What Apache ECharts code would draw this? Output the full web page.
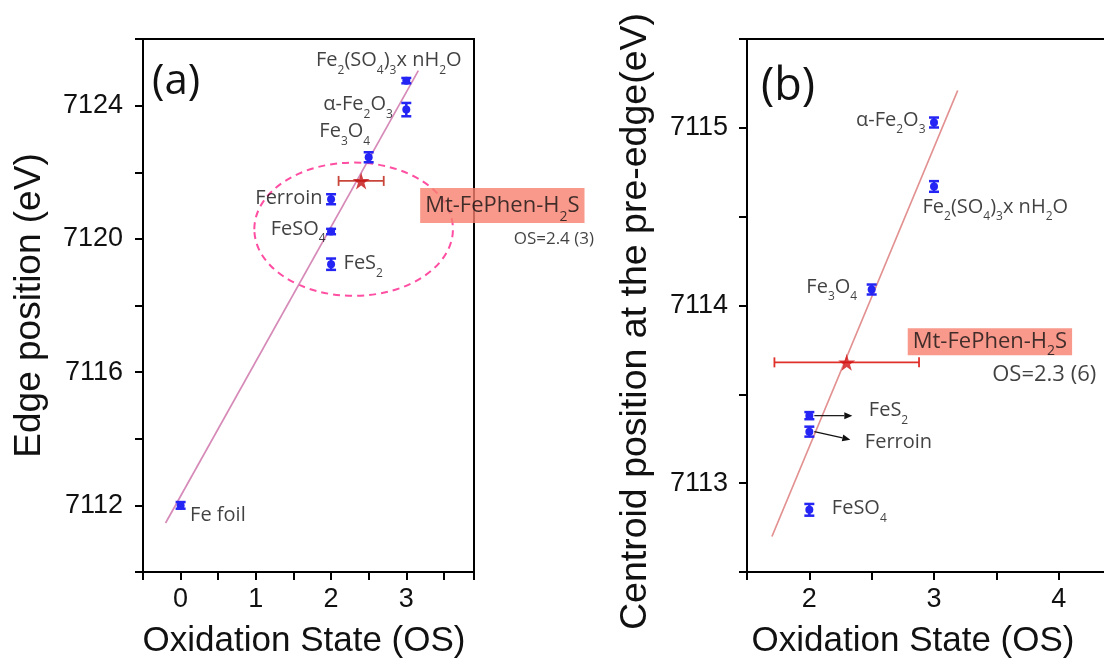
<!DOCTYPE html>
<html><head><meta charset="utf-8">
<script src="https://cdn.jsdelivr.net/npm/echarts@6/dist/echarts.min.js"></script>
<style>html,body{margin:0;padding:0;background:#fff}#c{width:1104px;height:660px}</style>
</head><body><div id="c"></div>
<script>
// ---------- Panel (a): edge position ----------
const namesA = ['{n|Fe foil}', '{n|Fe}{s|2}{n|(SO}{s|4}{n|)}{s|3}{n|x nH}{s|2}{n|O}', '{n|α-Fe}{s|2}{n|O}{s|3}', '{n|Fe}{s|3}{n|O}{s|4}', '{n|Ferroin}', '{n|FeSO}{s|4}', '{n|FeS}{s|2}'];
const osA = [0, 3, 3, 2.5, 2, 2, 2];
const edgeA = [7112.0, 7124.75, 7123.88, 7122.45, 7121.19, 7120.22, 7119.24];
const errA = [0.10, 0.08, 0.20, 0.15, 0.15, 0.08, 0.17];
const sampleA = { os: 2.4, value: 7121.74, osErr: 0.3, label: 'OS=2.4 (3)' };
const fitAx = [-0.2, 3.16];
const fitAy = [7111.47, 7125.05];
const xTicksA = [0, 1, 2, 3];
const yTicksA = [7112, 7116, 7120, 7124];

// ---------- Panel (b): centroid position ----------
const namesB = ['{n|α-Fe}{s|2}{n|O}{s|3}', '{n|Fe}{s|2}{n|(SO}{s|4}{n|)}{s|3}{n|x nH}{s|2}{n|O}', '{n|Fe}{s|3}{n|O}{s|4}', '{n|FeS}{s|2}', '{n|Ferroin}', '{n|FeSO}{s|4}'];
const osB = [3, 3, 2.5, 2, 2, 2];
const centB = [7115.03, 7114.67, 7114.09, 7113.38, 7113.29, 7112.85];
const errB = [0.028, 0.030, 0.028, 0.020, 0.028, 0.033];
const sampleB = { os: 2.3, value: 7113.68, osErr: 0.58, label: 'OS=2.3 (6)' };
const fitBx = [1.7, 3.19];
const fitBy = [7112.70, 7115.21];
const xTicksB = [2, 3, 4];
const yTicksB = [7113, 7114, 7115];
const sampleName = '{n|Mt-FePhen-H}{s|2}{n|S}';

// ---------- styles / label placements ----------
const BLUE = '#2424f4';
const LBL_FONT = 'Open Sans';
const AX_FONT = 'Liberation Sans';
const TXT = '#111';
const placeA = [
  { align: 'left', off: [10, 10] },
  { align: 'center', off: [-17, -20] },
  { align: 'right', off: [-13, -5] },
  { align: 'right', off: [2, -25] },
  { align: 'right', off: [-8, 0] },
  { align: 'right', off: [-5, -2] },
  { align: 'left', off: [13, 0] }
];
const placeB = [
  { align: 'right', off: [-8, -2] },
  { align: 'left', off: [-11, 21] },
  { align: 'right', off: [-14, -2] },
  { align: 'left', off: [60, -5] },
  { align: 'left', off: [56, 11] },
  { align: 'left', off: [23, -1] }
];
const arrowIdxB = [3, 4];
const arrowOff = [[5, 0, 43, 0], [5, 0, 41, 8]];

const subStyle = (size) => ({ fontSize: size, fontFamily: LBL_FONT, color: TXT, height: 4, lineHeight: 4, verticalAlign: 'bottom' });
const richLbl = (size, lh) => ({
  n: { fontSize: size, fontFamily: LBL_FONT, color: TXT, lineHeight: lh, verticalAlign: 'middle' },
  s: subStyle(Math.round(size * 0.62))
});

function yErrRender(params, api) {
  const x = api.value(0), y = api.value(1), e = api.value(2);
  const c = api.coord([x, y]);
  const t = api.coord([x, y + e]);
  const b = api.coord([x, y - e]);
  const hw = 5;
  return { type: 'group', children: [
    { type: 'line', shape: { x1: c[0], y1: t[1], x2: c[0], y2: b[1] }, style: { stroke: BLUE, lineWidth: 2.5 } },
    { type: 'line', shape: { x1: c[0] - hw, y1: t[1], x2: c[0] + hw, y2: t[1] }, style: { stroke: BLUE, lineWidth: 2.5 } },
    { type: 'line', shape: { x1: c[0] - hw, y1: b[1], x2: c[0] + hw, y2: b[1] }, style: { stroke: BLUE, lineWidth: 2.5 } },
    { type: 'circle', shape: { cx: c[0], cy: c[1], r: 4 }, style: { fill: BLUE } }
  ]};
}
function xErrRender(color) {
  return function (params, api) {
    const x = api.value(0), y = api.value(1), e = api.value(2);
    const l = api.coord([x - e, y]);
    const r = api.coord([x + e, y]);
    const hh = 5;
    return { type: 'group', children: [
      { type: 'line', shape: { x1: l[0], y1: l[1], x2: r[0], y2: r[1] }, style: { stroke: color, lineWidth: 1.8 } },
      { type: 'line', shape: { x1: l[0], y1: l[1] - hh, x2: l[0], y2: l[1] + hh }, style: { stroke: color, lineWidth: 1.8 } },
      { type: 'line', shape: { x1: r[0], y1: r[1] - hh, x2: r[0], y2: r[1] + hh }, style: { stroke: color, lineWidth: 1.8 } }
    ]};
  };
}
function ellipseRender(params, api) {
  const c = api.coord([api.value(0), api.value(1)]);
  const s = api.size([api.value(2), api.value(3)]);
  return { type: 'ellipse', shape: { cx: c[0], cy: c[1], rx: s[0], ry: s[1] },
    style: { fill: 'none', stroke: '#ff4fa3', lineWidth: 2, lineDash: [7, 5] } };
}
function arrowRender(params, api) {
  const c = api.coord([api.value(0), api.value(1)]);
  const o = arrowOff[params.dataIndex];
  const x1 = c[0] + o[0], y1 = c[1] + o[1], x2 = c[0] + o[2], y2 = c[1] + o[3];
  const ang = Math.atan2(y2 - y1, x2 - x1);
  const L = 8, W = 3.5;
  const bx = x2 - L * Math.cos(ang), by = y2 - L * Math.sin(ang);
  const px = -Math.sin(ang) * W, py = Math.cos(ang) * W;
  return { type: 'group', children: [
    { type: 'line', shape: { x1: x1, y1: y1, x2: bx, y2: by }, style: { stroke: '#111', lineWidth: 1.2 } },
    { type: 'polygon', shape: { points: [[x2, y2], [bx + px, by + py], [bx - px, by - py]] }, style: { fill: '#111' } }
  ]};
}

const STAR = 'path://M50,0 L61,35 L98,35 L68,57 L79,91 L50,70 L21,91 L32,57 L2,35 L39,35 Z';
const STAR_SIZE = 17;

function labelSeries(xi, xs, ys, names, place, size) {
  return {
    type: 'scatter', xAxisIndex: xi, yAxisIndex: xi, symbolSize: 1, z: 6,
    itemStyle: { color: 'rgba(0,0,0,0)' }, silent: true,
    data: xs.map((x, i) => ({
      value: [x, ys[i]],
      label: {
        show: true, position: [0, 0], align: place[i].align, verticalAlign: 'middle',
        offset: place[i].off, formatter: names[i], rich: richLbl(size, 24)
      }
    }))
  };
}

function axisCommon() {
  return {
    type: 'value',
    axisLine: { show: true, onZero: false, lineStyle: { color: '#000', width: 2 } },
    axisTick: { show: true, inside: false, length: 8, lineStyle: { color: '#000', width: 2 } },
    splitLine: { show: false },
    nameLocation: 'middle'
  };
}

const option = {
  animation: false,
  backgroundColor: '#fff',
  title: [
    { text: '(a)', left: 147, top: 56, textStyle: { fontSize: 42, fontFamily: LBL_FONT, fontWeight: 'normal', color: TXT } },
    { text: '(b)', left: 756, top: 60, textStyle: { fontSize: 45, fontFamily: LBL_FONT, fontWeight: 'normal', color: TXT } }
  ],
  grid: [
    { left: 143, top: 39, width: 331, height: 533, outerBoundsMode: 'none', containLabel: false,
      show: true, borderColor: '#000', borderWidth: 2, backgroundColor: 'transparent' },
    { left: 747, top: 39, width: 374, height: 533, outerBoundsMode: 'none', containLabel: false,
      show: true, borderColor: '#000', borderWidth: 2, backgroundColor: 'transparent' }
  ],
  xAxis: [
    Object.assign(axisCommon(), {
      gridIndex: 0, min: -0.5, max: 3.9, interval: 0.5,
      axisLabel: { formatter: v => xTicksA.includes(v) ? String(v) : '', fontSize: 27, fontFamily: AX_FONT, color: TXT, margin: 14 },
      name: 'Oxidation State (OS)', nameGap: 52, nameTextStyle: { fontSize: 35, fontFamily: AX_FONT, color: TXT, padding: [0, 9, 0, 0] }
    }),
    Object.assign(axisCommon(), {
      gridIndex: 1, min: 1.5, max: 4.5, interval: 0.5,
      axisLabel: { formatter: v => xTicksB.includes(v) ? String(v) : '', fontSize: 27, fontFamily: AX_FONT, color: TXT, margin: 14 },
      name: 'Oxidation State (OS)', nameGap: 52, nameTextStyle: { fontSize: 35, fontFamily: AX_FONT, color: TXT, padding: [0, 42, 0, 0] }
    })
  ],
  yAxis: [
    Object.assign(axisCommon(), {
      gridIndex: 0, min: 7110, max: 7126, interval: 2,
      axisLabel: { formatter: v => yTicksA.includes(v) ? String(v) : '', fontSize: 27, fontFamily: AX_FONT, color: TXT, margin: 20 },
      name: 'Edge position (eV)', nameGap: 95,
      nameTextStyle: { fontSize: 37, fontFamily: AX_FONT, color: TXT }
    }),
    Object.assign(axisCommon(), {
      gridIndex: 1, min: 7112.5, max: 7115.5, interval: 0.5,
      axisLabel: { formatter: v => yTicksB.includes(v) ? String(v) : '', fontSize: 27, fontFamily: AX_FONT, color: TXT, margin: 19 },
      name: 'Centroid position at the pre-edge(eV)', nameGap: 92,
      nameTextStyle: { fontSize: 37.5, fontFamily: AX_FONT, color: TXT, padding: [0, 32, 0, 0] }
    })
  ],
  series: [
    // ----- panel a -----
    { type: 'line', xAxisIndex: 0, yAxisIndex: 0, z: 2, showSymbol: false, silent: true,
      lineStyle: { color: '#d68ab8', width: 1.7 }, data: fitAx.map((x, i) => [x, fitAy[i]]) },
    { type: 'custom', xAxisIndex: 0, yAxisIndex: 0, z: 1, silent: true, renderItem: ellipseRender,
      data: [[2.3, 7120.29, 1.32, 2.0]] },
    { type: 'custom', xAxisIndex: 0, yAxisIndex: 0, z: 3, silent: true, renderItem: yErrRender,
      data: osA.map((x, i) => [x, edgeA[i], errA[i]]) },
    { type: 'custom', xAxisIndex: 0, yAxisIndex: 0, z: 3, silent: true, renderItem: xErrRender('#c8453a'),
      data: [[sampleA.os, sampleA.value, sampleA.osErr]] },
    { type: 'scatter', xAxisIndex: 0, yAxisIndex: 0, z: 4, symbol: STAR, symbolSize: STAR_SIZE, silent: true,
      itemStyle: { color: '#c40f0f' },
      label: { show: true, position: [0, 0], align: 'left', verticalAlign: 'top', offset: [59 + STAR_SIZE / 2, 7 + STAR_SIZE / 2],
        formatter: sampleName, backgroundColor: '#f7806f', padding: [5, 5, 4, 5],
        rich: { n: { fontSize: 22, fontFamily: LBL_FONT, color: TXT, lineHeight: 26, verticalAlign: 'middle' },
                s: subStyle(14) } },
      data: [[sampleA.os, sampleA.value]] },
    { type: 'scatter', xAxisIndex: 0, yAxisIndex: 0, z: 6, symbolSize: 1, silent: true,
      itemStyle: { color: 'rgba(0,0,0,0)' },
      label: { show: true, position: [0, 0], align: 'left', verticalAlign: 'middle', offset: [153, 59],
        formatter: sampleA.label, fontSize: 17, fontFamily: LBL_FONT, color: TXT },
      data: [[sampleA.os, sampleA.value]] },
    labelSeries(0, osA, edgeA, namesA, placeA, 20),
    // ----- panel b -----
    { type: 'line', xAxisIndex: 1, yAxisIndex: 1, z: 2, showSymbol: false, silent: true,
      lineStyle: { color: '#e29090', width: 1.7 }, data: fitBx.map((x, i) => [x, fitBy[i]]) },
    { type: 'custom', xAxisIndex: 1, yAxisIndex: 1, z: 3, silent: true, renderItem: yErrRender,
      data: osB.map((x, i) => [x, centB[i], errB[i]]) },
    { type: 'custom', xAxisIndex: 1, yAxisIndex: 1, z: 3, silent: true, renderItem: xErrRender('#e0302a'),
      data: [[sampleB.os, sampleB.value, sampleB.osErr]] },
    { type: 'custom', xAxisIndex: 1, yAxisIndex: 1, z: 5, silent: true, renderItem: arrowRender,
      data: arrowIdxB.map(i => [osB[i], centB[i]]) },
    { type: 'scatter', xAxisIndex: 1, yAxisIndex: 1, z: 4, symbol: STAR, symbolSize: STAR_SIZE, silent: true,
      itemStyle: { color: '#d21212' },
      label: { show: true, position: [0, 0], align: 'left', verticalAlign: 'top', offset: [61 + STAR_SIZE / 2, -34 + STAR_SIZE / 2],
        formatter: sampleName, backgroundColor: '#f7806f', padding: [2, 5, 2, 5],
        rich: { n: { fontSize: 22, fontFamily: LBL_FONT, color: TXT, lineHeight: 23, verticalAlign: 'middle' },
                s: subStyle(14) } },
      data: [[sampleB.os, sampleB.value]] },
    { type: 'scatter', xAxisIndex: 1, yAxisIndex: 1, z: 6, symbolSize: 1, silent: true,
      itemStyle: { color: 'rgba(0,0,0,0)' },
      label: { show: true, position: [0, 0], align: 'left', verticalAlign: 'middle', offset: [146, 13],
        formatter: sampleB.label, fontSize: 22, fontFamily: LBL_FONT, color: TXT },
      data: [[sampleB.os, sampleB.value]] },
    labelSeries(1, osB, centB, namesB, placeB, 20)
  ]
};
const chart = echarts.init(document.getElementById('c'), null, { renderer: 'canvas' });
chart.setOption(option);
</script>
</body></html>
